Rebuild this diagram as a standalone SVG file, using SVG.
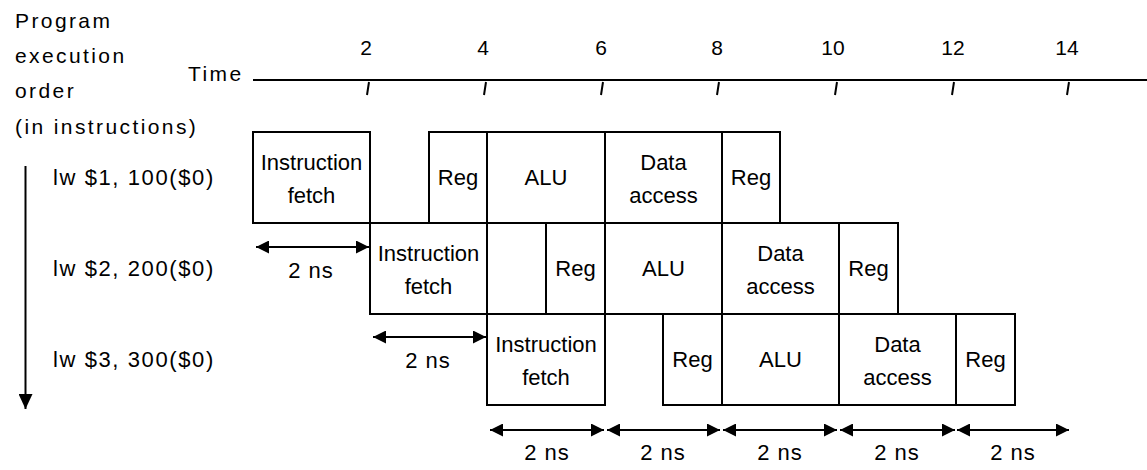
<svg xmlns="http://www.w3.org/2000/svg" width="1147" height="470" viewBox="0 0 1147 470">
  <style>
    text { font-family: "Liberation Sans", Arial, sans-serif; fill: #000; }
    .hdr { font-size: 21px; letter-spacing: 2.4px; }
    .num { font-size: 21px; text-anchor: middle; }
    .instr { font-size: 22px; letter-spacing: 1.6px; }
    .stage rect { fill: #fff; stroke: #000; stroke-width: 2; }
    .stage text { font-size: 22px; text-anchor: middle; }
    .ns { font-size: 22px; text-anchor: middle; letter-spacing: 1px; }
    .axis { stroke: #000; stroke-width: 2; fill: none; }
    .span { stroke: #000; stroke-width: 2; fill: none; marker-start: url(#head); marker-end: url(#head); }
  </style>
  <defs>
    <marker id="head" markerUnits="userSpaceOnUse" markerWidth="13" markerHeight="13" refX="13" refY="6.5" orient="auto-start-reverse">
      <path d="M0,0 L13,6.5 L0,13 Z" fill="#000"/>
    </marker>
    <marker id="down" markerUnits="userSpaceOnUse" markerWidth="15" markerHeight="14" refX="15" refY="7" orient="auto">
      <path d="M0,0 L15,7 L0,14 Z" fill="#000"/>
    </marker>
  </defs>

  <!-- axis titles -->
  <g id="order-label">
    <text class="hdr" x="15" y="28">Program</text>
    <text class="hdr" x="15" y="63">execution</text>
    <text class="hdr" x="15" y="98">order</text>
    <text class="hdr" x="15" y="134">(in instructions)</text>
  </g>

  <!-- time axis with tick marks -->
  <g id="time-axis">
    <text class="hdr" x="188" y="81">Time</text>
    <line class="axis" x1="253" y1="80" x2="1147" y2="80"/>
    <path class="axis" d="M369,82 L367,95 M486,82 L484,95 M603,82 L601,95 M719,82 L717,95 M837,82 L835,95 M954,82 L952,95 M1069,82 L1067,95"/>
    <text class="num" x="366" y="55">2</text>
    <text class="num" x="483" y="55">4</text>
    <text class="num" x="601" y="55">6</text>
    <text class="num" x="717" y="55">8</text>
    <text class="num" x="833" y="55">10</text>
    <text class="num" x="953" y="55">12</text>
    <text class="num" x="1067" y="55">14</text>
  </g>

  <!-- instruction names -->
  <g id="instr-1"><text class="instr" x="53" y="185">lw $1, 100($0)</text></g>
  <g id="instr-2"><text class="instr" x="53" y="276">lw $2, 200($0)</text></g>
  <g id="instr-3"><text class="instr" x="53" y="367">lw $3, 300($0)</text></g>

  <!-- lw $1 stages -->
  <g id="i1-fetch" class="stage"><rect x="253" y="132" width="117" height="91"/><text x="311.5" y="170">Instruction</text><text x="311.5" y="203">fetch</text></g>
  <g id="i1-reg" class="stage"><rect x="429" y="132" width="58" height="91"/><text x="458" y="185">Reg</text></g>
  <g id="i1-alu" class="stage"><rect x="487" y="132" width="118" height="91"/><text x="546" y="185">ALU</text></g>
  <g id="i1-data" class="stage"><rect x="605" y="132" width="117" height="91"/><text x="663.5" y="170">Data</text><text x="663.5" y="203">access</text></g>
  <g id="i1-wb" class="stage"><rect x="722" y="132" width="58" height="91"/><text x="751" y="185">Reg</text></g>

  <!-- lw $2 stages -->
  <g id="i2-fetch" class="stage"><rect x="370" y="223" width="117" height="91"/><text x="428.5" y="261">Instruction</text><text x="428.5" y="294">fetch</text></g>
  <g id="i2-reg" class="stage"><rect x="546" y="223" width="59" height="91"/><text x="575.5" y="276">Reg</text></g>
  <g id="i2-alu" class="stage"><rect x="605" y="223" width="117" height="91"/><text x="663.5" y="276">ALU</text></g>
  <g id="i2-data" class="stage"><rect x="722" y="223" width="117" height="91"/><text x="780.5" y="261">Data</text><text x="780.5" y="294">access</text></g>
  <g id="i2-wb" class="stage"><rect x="839" y="223" width="59" height="91"/><text x="868.5" y="276">Reg</text></g>

  <!-- lw $3 stages -->
  <g id="i3-fetch" class="stage"><rect x="487" y="314" width="118" height="91"/><text x="546" y="352">Instruction</text><text x="546" y="385">fetch</text></g>
  <g id="i3-reg" class="stage"><rect x="663" y="314" width="59" height="91"/><text x="692.5" y="367">Reg</text></g>
  <g id="i3-alu" class="stage"><rect x="722" y="314" width="117" height="91"/><text x="780.5" y="367">ALU</text></g>
  <g id="i3-data" class="stage"><rect x="839" y="314" width="117" height="91"/><text x="897.5" y="352">Data</text><text x="897.5" y="385">access</text></g>
  <g id="i3-wb" class="stage"><rect x="956" y="314" width="59" height="91"/><text x="985.5" y="367">Reg</text></g>

  <!-- connectors: order arrow and 2 ns spans -->
  <g id="connectors">
    <line x1="25.5" y1="166" x2="25.5" y2="409" stroke="#000" stroke-width="2" marker-end="url(#down)"/>
    <line class="span" x1="256" y1="247" x2="369" y2="247"/>
    <line class="span" x1="373" y1="337" x2="486" y2="337"/>
    <line class="span" x1="490" y1="430" x2="604" y2="430"/>
    <line class="span" x1="607" y1="430" x2="720" y2="430"/>
    <line class="span" x1="723" y1="430" x2="837" y2="430"/>
    <line class="span" x1="840" y1="430" x2="955" y2="430"/>
    <line class="span" x1="957" y1="430" x2="1069" y2="430"/>
  </g>
  <g id="span-labels">
    <text class="ns" x="311" y="278">2 ns</text>
    <text class="ns" x="428" y="368">2 ns</text>
    <text class="ns" x="547" y="460">2 ns</text>
    <text class="ns" x="663" y="460">2 ns</text>
    <text class="ns" x="780" y="460">2 ns</text>
    <text class="ns" x="897" y="460">2 ns</text>
    <text class="ns" x="1013" y="460">2 ns</text>
  </g>
</svg>
